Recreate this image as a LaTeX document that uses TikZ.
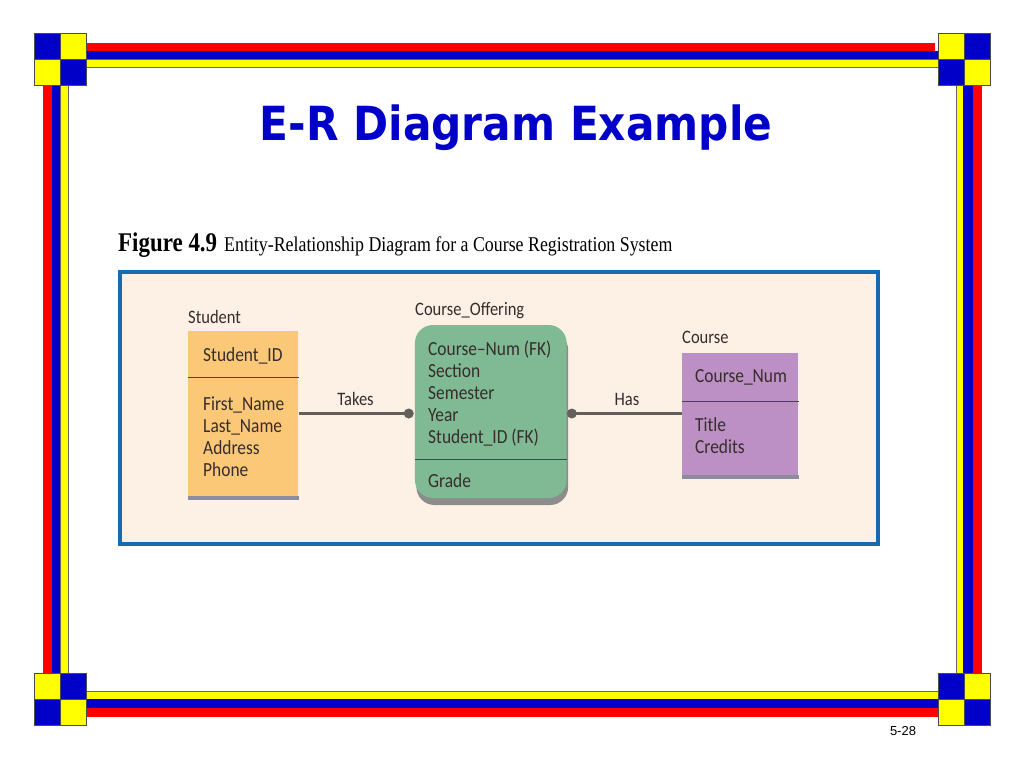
\documentclass[tikz,border=0pt]{standalone}
\usepackage{fontspec}
\setmainfont{Liberation Serif}
\newfontfamily\titlefont[FakeStretch=0.9]{DejaVu Sans}
\newfontfamily\capfont[FakeStretch=0.85]{Liberation Serif}
\newfontfamily\erfont[FakeStretch=0.87]{Carlito}
\newfontfamily\pagefont{Liberation Sans}
\usetikzlibrary{positioning}

\definecolor{framered}{RGB}{255,0,0}
\definecolor{frameblue}{RGB}{0,0,200}
\definecolor{frameyellow}{RGB}{255,255,0}
\definecolor{titleblue}{RGB}{0,0,200}
\definecolor{panelfill}{RGB}{253,240,228}
\definecolor{panelline}{RGB}{25,105,175}
\definecolor{studentfill}{RGB}{251,200,120}
\definecolor{offerfill}{RGB}{128,186,148}
\definecolor{coursefill}{RGB}{188,144,196}
\definecolor{erline}{RGB}{100,95,90}
\definecolor{ertext}{RGB}{55,45,45}
\definecolor{basegray}{RGB}{140,140,160}

% carre a damier : x, y, couleur haut-gauche, couleur haut-droite
\newcommand{\cornerbox}[4]{
    \fill[#3] (#1,#2) rectangle ++(26,26);
    \fill[#4] (#1+26,#2) rectangle ++(26,26);
    \fill[#4] (#1,#2+26) rectangle ++(26,26);
    \fill[#3] (#1+26,#2+26) rectangle ++(26,26);
    \draw[black!70, line width=0.8] (#1,#2) rectangle ++(52,52);
    \draw[black!70, line width=0.8] (#1+26,#2)--++(0,52) (#1,#2+26)--++(52,0);
}

\tikzset{
    yellowstripe/.style={fill=frameyellow, draw=black!60, line width=0.5},
    slidetitle/.style={anchor=base, inner sep=0, text=titleblue, font=\titlefont\bfseries\fontsize{47}{47}\selectfont},
    figcaption/.style={anchor=base west, inner sep=0, font=\capfont\fontsize{21}{21}\selectfont},
    entity/.style={rectangle, inner sep=0, draw=none},
    entname/.style={anchor=base west, inner sep=0, text=ertext, font=\erfont\fontsize{19}{22}\selectfont},
    attr/.style={anchor=base west, inner sep=0, text=ertext, font=\erfont\fontsize{20}{22}\selectfont},
    divider/.style={draw=ertext!90, line width=1.3},
    link/.style={draw=erline, line width=2.2},
    dot/.style={circle, fill=erline, minimum size=10, inner sep=0},
    pagenum/.style={inner sep=0, font=\pagefont\fontsize{13}{13}\selectfont}
}

\begin{document}
\begin{tikzpicture}[x=1pt,y=-1pt]
\useasboundingbox (0,0) rectangle (1024,768);
\fill[white] (0,0) rectangle (1024,768);

%cadre

\fill[framered] (83,43) rectangle (935,51);
\fill[frameblue] (85,51) rectangle (938,59);
\filldraw[yellowstripe] (85,59) rectangle (938,67);

\fill[framered] (43,85) rectangle (52,673);
\fill[frameblue] (52,85) rectangle (60,673);
\filldraw[yellowstripe] (60,85) rectangle (68,673);

\filldraw[yellowstripe] (956,85) rectangle (963,674);
\fill[frameblue] (963,85) rectangle (973,674);
\fill[framered] (973,85) rectangle (982,674);

\filldraw[yellowstripe] (85,691) rectangle (938,699);
\fill[frameblue] (85,699) rectangle (938,708);
\fill[framered] (85,708) rectangle (938,717);

\cornerbox{34}{33}{frameblue}{frameyellow}
\cornerbox{938}{33}{frameyellow}{frameblue}
\cornerbox{34}{673}{frameyellow}{frameblue}
\cornerbox{938}{673}{frameblue}{frameyellow}

%titre

\node[slidetitle] (title) at (516,140) {E-R Diagram Example};
\node[figcaption] (caption) at (118,251) {{\bfseries\fontsize{27}{27}\selectfont Figure 4.9}\hspace{7pt}Entity-Relationship Diagram for a Course Registration System};

%diagramme

\filldraw[fill=panelfill, draw=panelline, line width=4] (120,272) rectangle (878,544);

\node[entity, fill=studentfill, minimum width=110, minimum height=169] (student) at (243.3,415.5) {};
\fill[basegray] (student.south west) rectangle ([yshift=4]student.south east);
\draw[divider] ([yshift=-47]student.north west)--([yshift=-47]student.north east);
\node[entname] (studentname) at (188,323.3) {Student};
\node[attr] (sid) at (203,361.7) {Student\_ID};
\node[attr] (sfirst) at (203,410) {First\_Name};
\node[attr] (slast) at (203,432) {Last\_Name};
\node[attr] (saddr) at (203,454) {Address};
\node[attr] (sphone) at (203,476) {Phone};

\node[entity, fill=black!45, rounded corners=18, minimum width=151.7, minimum height=173] (offershade) at (492.3,418.5) {};
\node[entity, fill=offerfill, rounded corners=18, minimum width=151.7, minimum height=173] (offer) at (490.8,411.5) {};
\draw[divider] ([yshift=-135]offer.north west)--([yshift=-135]offer.north east);
\node[entname] (offername) at (415,315) {Course\_Offering};
\node[attr] (ocnum) at (428,355) {Course–Num (FK)};
\node[attr] (osect) at (428,377) {Section};
\node[attr] (osem) at (428,399) {Semester};
\node[attr] (oyear) at (428,421) {Year};
\node[attr] (osid) at (428,443) {Student\_ID (FK)};
\node[attr] (ograde) at (428,487) {Grade};

\node[entity, fill=coursefill, minimum width=116.6, minimum height=125] (course) at (740,415.8) {};
\fill[basegray] (course.south west) rectangle ([yshift=4]course.south east);
\draw[divider] ([yshift=-48.4]course.north west)--([yshift=-48.4]course.north east);
\node[entname] (coursename) at (682,343.3) {Course};
\node[attr] (ccnum) at (695,382.7) {Course\_Num};
\node[attr] (ctitle) at (695,431.7) {Title};
\node[attr] (ccred) at (695,453.7) {Credits};

%liens

\coordinate (takesend) at ([xshift=-6,yshift=-2]offer.west);
\coordinate (hasend) at ([xshift=5,yshift=-2]offer.east);
\draw[link] (student.east |- takesend)--(takesend);
\draw[link] (hasend)--(hasend -| course.west);
\node[dot] (takesdot) at (takesend) {};
\node[dot] (hasdot) at (hasend) {};
\node[entname, anchor=base] (takes) at (355.5,405) {Takes};
\node[entname, anchor=base] (has) at (627,405) {Has};

\node[pagenum] (page) at (903,731) {5-28};
\end{tikzpicture}
\end{document}
